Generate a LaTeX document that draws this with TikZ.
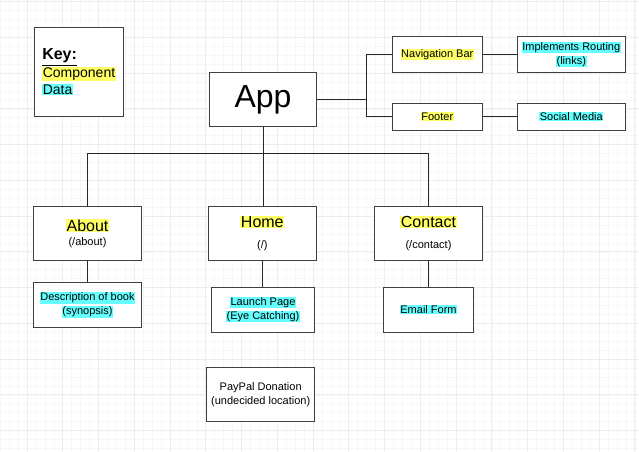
\documentclass[tikz,border=0pt]{standalone}
\usepackage{fontspec}
\setmainfont{Liberation Sans}
\definecolor{compyellow}{RGB}{255,255,102}
\definecolor{datacyan}{RGB}{102,255,255}
\newcommand{\hlcomp}[1]{{\setlength{\fboxsep}{0.4pt}\colorbox{compyellow}{#1}}}
\newcommand{\hldata}[1]{{\setlength{\fboxsep}{0.4pt}\colorbox{datacyan}{#1}}}
\newcommand{\bigtxt}{\fontsize{12}{14}\selectfont}
\begin{document}
\begin{tikzpicture}
	[x=0.75pt, y=-0.75pt,
	box/.style={rectangle, draw=black!75, line width=0.8pt, fill=white, inner sep=0pt, align=center, font=\fontsize{8.25}{10.5}\selectfont},
	link/.style={draw=black!85, line width=0.75pt},
	minorgrid/.style={draw=black!3, line width=0.4pt},
	majorgrid/.style={draw=black!7, line width=0.6pt}]
	
	\useasboundingbox (0,0) rectangle (639,452);
	\fill[white] (0,0) rectangle (639,452);
	
	% background grid
	\foreach \i in {0,...,71} \draw[minorgrid] ({0.2+8.9375*\i},0) -- ({0.2+8.9375*\i},452);
	\foreach \i in {0,...,50} \draw[minorgrid] (0,{1.55+8.9375*\i}) -- (639,{1.55+8.9375*\i});
	\foreach \i in {0,...,17} \draw[majorgrid] ({27+35.75*\i},0) -- ({27+35.75*\i},452);
	\foreach \i in {0,...,12} \draw[majorgrid] (0,{1.55+35.75*\i}) -- (639,{1.55+35.75*\i});
	
	% key
	\node (key) at (79,72) [box, minimum width=89*0.75pt, minimum height=89*0.75pt, align=left, font=\fontsize{10.5}{13}\selectfont]
		{{\bigtxt\bfseries\underline{Key:}}\\\hlcomp{Component}\\\hldata{Data}};
	
	% app and its header / footer
	\node (app) at (263,99.5) [box, minimum width=107*0.75pt, minimum height=54*0.75pt, font=\fontsize{24}{28}\selectfont] {App};
	\node (nav) at (437.3,54.2) [box, minimum width=90*0.75pt, minimum height=36*0.75pt] {\hlcomp{Navigation Bar}};
	\node (routing) at (571.3,54.2) [box, minimum width=108*0.75pt, minimum height=36*0.75pt] {\hldata{Implements Routing}\\\hldata{(links)}};
	\node (footer) at (437.3,116.8) [box, minimum width=90*0.75pt, minimum height=27*0.75pt] {\hlcomp{Footer}};
	\node (social) at (571.3,116.8) [box, minimum width=108*0.75pt, minimum height=27*0.75pt] {\hldata{Social Media}};
	
	\draw[link] (app.east) -- ++(49,0) |- (nav.west);
	\draw[link] (app.east) -- ++(49,0) |- (footer.west);
	\draw[link] (nav.east) -- (routing.west);
	\draw[link] (footer.east) -- (social.west);
	
	% pages
	\node (about) at (87.5,233.3) [box, minimum width=108*0.75pt, minimum height=54*0.75pt] {{\bigtxt\hlcomp{About}}\\(/about)};
	\node (home) at (262.3,233.3) [box, minimum width=108*0.75pt, minimum height=54*0.75pt] {{\bigtxt\hlcomp{Home}}\\[5pt](/)};
	\node (contact) at (428.5,233.3) [box, minimum width=108*0.75pt, minimum height=54*0.75pt] {{\bigtxt\hlcomp{Contact}}\\[5pt](/contact)};
	
	\draw[link] (app.south) -- (app.south |- home.north);
	\draw[link] (app.south) -- ++(0,26.5) -| (about.north);
	\draw[link] (app.south) -- ++(0,26.5) -| (contact.north);
	
	% page contents
	\node (desc) at (87.5,305) [box, minimum width=108*0.75pt, minimum height=44.6*0.75pt] {\hldata{Description of book}\\\hldata{(synopsis)}};
	\node (launch) at (263,309.8) [box, minimum width=103*0.75pt, minimum height=45*0.75pt] {\hldata{Launch Page}\\\hldata{(Eye Catching)}};
	\node (email) at (428.5,309.8) [box, minimum width=90*0.75pt, minimum height=45*0.75pt] {\hldata{Email Form}};
	\node (paypal) at (260.7,394.7) [box, minimum width=108*0.75pt, minimum height=54*0.75pt] {PayPal Donation\\(undecided location)};
	
	\draw[link] (about.south) -- (desc.north);
	\draw[link] (home.south) -- (home.south |- launch.north);
	\draw[link] (contact.south) -- (email.north);

\end{tikzpicture}
\end{document}
